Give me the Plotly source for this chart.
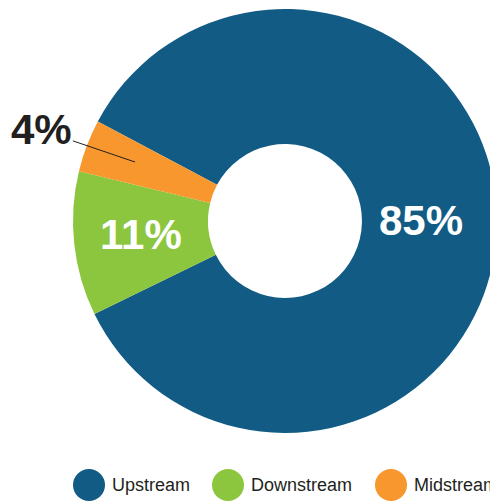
import plotly.graph_objects as go

# segment shares (%)
labels = ["Upstream", "Downstream", "Midstream"]
values = [85, 11, 4]
colors = ["#115b85", "#8cc63f", "#f7972d"]

# page body adds an 8px margin, so the figure is drawn 8px in from the window edge
OFF = 8
W, H = 498 - OFF, 502 - OFF


def px_x(x):
    return (x - OFF) / W


def px_y(y):
    return 1 - (y - OFF) / H


big_font = dict(family="Liberation Sans, Arial", size=42, color="white", weight="bold")

fig = go.Figure(go.Pie(
    labels=labels,
    values=values,
    hole=0.363,
    sort=False,
    direction="clockwise",
    rotation=-62,
    marker=dict(colors=colors, line=dict(width=0)),
    textinfo="none",
    hoverinfo="label+percent",
    showlegend=False,
    domain=dict(x=[px_x(73), px_x(497)], y=[px_y(433), px_y(9)]),
))

# percentage labels placed by hand (plotly's inside placement drifts a bit)
label_pos = [(421, 220), (141, 234)]
for v, (lx, ly) in zip(values[:2], label_pos):
    fig.add_annotation(x=px_x(lx), y=px_y(ly), xref="paper", yref="paper",
                       text="%d%%" % v, showarrow=False,
                       xanchor="center", yanchor="middle", font=big_font)

# small slice label sits outside with a leader line
fig.add_annotation(
    x=px_x(135), y=px_y(162), xref="paper", yref="paper",
    text="%d%%" % values[2],
    showarrow=True, arrowhead=0, arrowwidth=1, arrowcolor="#231f20",
    ax=-94, ay=-32,
    font=dict(big_font, color="#231f20"),
)

# legend with large round swatches
legend_cx = [89, 228, 391]
legend_cy = 485
r = 16
for lab, col, cx in zip(labels, colors, legend_cx):
    fig.add_shape(type="circle", xref="paper", yref="paper",
                  x0=px_x(cx - r), x1=px_x(cx + r),
                  y0=px_y(legend_cy + r), y1=px_y(legend_cy - r),
                  fillcolor=col, line=dict(width=0))
    fig.add_annotation(x=px_x(cx + r + 5), y=px_y(legend_cy), xref="paper", yref="paper",
                       text=lab, showarrow=False, xanchor="left", yanchor="middle",
                       font=dict(family="Liberation Sans, Arial", size=18, color="#231f20"))

fig.update_layout(
    width=W, height=H,
    margin=dict(l=0, r=0, t=0, b=0),
    paper_bgcolor="white",
    plot_bgcolor="white",
)

fig.write_html("out.html")
